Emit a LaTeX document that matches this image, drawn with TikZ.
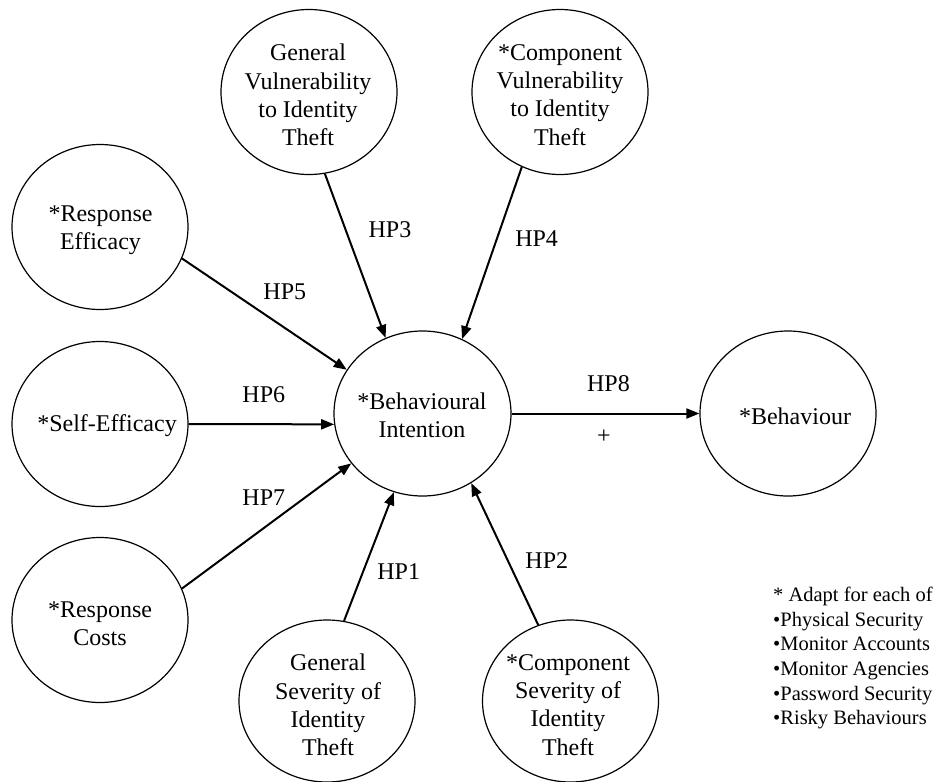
\documentclass[tikz,border=0pt]{standalone}
\usepackage{fontspec}
\setmainfont{Liberation Serif}
\usetikzlibrary{shapes.geometric,arrows.meta}

\tikzset{
  bubble/.style={draw=black, line width=1.2pt, ellipse, inner sep=0pt,
    minimum width=176pt, minimum height=165pt},
  bubbletext/.style={align=center, inner sep=0pt,
    font=\fontsize{24}{28.3}\selectfont},
  hplabel/.style={inner sep=0pt, font=\fontsize{24}{28}\selectfont},
  link/.style={line width=2pt, -{Triangle[length=13pt,width=10pt]}},
}

\begin{document}
\begin{tikzpicture}[x=1pt, y=-1pt]
  \useasboundingbox (0,0) rectangle (935,782);

  % constructs
  \node[bubble] (gv)  at (309,92)    {};
  \node[bubble] (cv)  at (560,92)    {};
  \node[bubble] (re)  at (100,227)   {};
  \node[bubble] (se)  at (100,424)   {};
  \node[bubble] (rc)  at (100,620)   {};
  \node[bubble, minimum width=177pt] (bi)  at (422.5,413.5) {};
  \node[bubble] (beh) at (788,413.5) {};
  \node[bubble, minimum height=162pt] (gs) at (327,701)   {};
  \node[bubble, minimum height=162pt] (cs) at (570.5,701) {};

  % construct names
  \node[bubbletext] (gv-t)  at (308,95)    {General\\Vulnerability\\to Identity\\Theft};
  \node[bubbletext] (cv-t)  at (560,95)    {*Component\\Vulnerability\\to Identity\\Theft};
  \node[bubbletext] (re-t)  at (100.5,230) {*Response\\Efficacy};
  \node[bubbletext] (se-t)  at (107,426)   {*Self-Efficacy};
  \node[bubbletext] (rc-t)  at (100,623.5) {*Response\\Costs};
  \node[bubbletext] (bi-t)  at (422,415.5) {*Behavioural\\Intention};
  \node[bubbletext] (beh-t) at (795,416)   {*Behaviour};
  \node[bubbletext] (gs-t)  at (328,705)   {General\\Severity of\\Identity\\Theft};
  \node[bubbletext] (cs-t)  at (568,705)   {*Component\\Severity of\\Identity\\Theft};

  % hypothesised paths
  \draw[link] (gv.-79)   -- (bi.116);
  \draw[link] (cv.-117)  -- (bi.62.6);
  \draw[link] (re.-21)   -- (bi.150.8);
  \draw[link] (se.0)     -- (bi.-173.6);
  \draw[link] (rc.21.6)  -- (bi.-145.5);
  \draw[link] (gs.78.2)  -- (bi.-110);
  \draw[link] (cs.113)   -- (bi.-55.2);
  \draw[link] (bi.0)     -- (beh.180);

  % path labels
  \node[hplabel] (hp3)  at (390,230)   {HP3};
  \node[hplabel] (hp4)  at (536.6,239) {HP4};
  \node[hplabel] (hp5)  at (284.8,292) {HP5};
  \node[hplabel] (hp6)  at (263.8,395) {HP6};
  \node[hplabel] (hp8)  at (608.5,384) {HP8};
  \node[hplabel] (plus) at (604,437)   {+};
  \node[hplabel] (hp7)  at (263.8,498) {HP7};
  \node[hplabel] (hp1)  at (398.7,572) {HP1};
  \node[hplabel] (hp2)  at (546.8,561) {HP2};

  % note on the starred constructs
  \node[align=left, anchor=north west, inner sep=0pt,
        font=\fontsize{20.5}{24.6}\selectfont] (note) at (773,587)
    {* Adapt for each of\\
     •Physical Security\\
     •Monitor Accounts\\
     •Monitor Agencies\\
     •Password Security\\
     •Risky Behaviours};
\end{tikzpicture}
\end{document}
